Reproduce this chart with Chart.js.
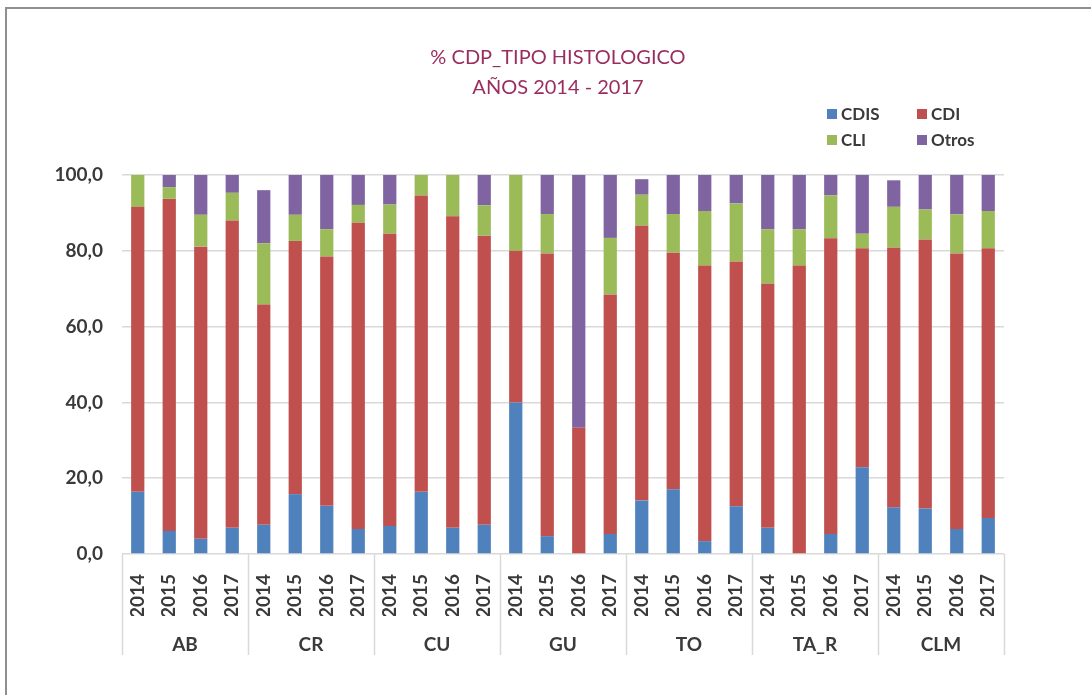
<!DOCTYPE html>
<html>
<head>
<meta charset="utf-8">
<script src="https://cdn.jsdelivr.net/npm/chart.js@4.4.1/dist/chart.umd.min.js"></script>
<style>
  html, body { margin: 0; padding: 0; background: #ffffff; }
  #wrap { position: relative; width: 1091px; height: 695px; overflow: hidden; }
</style>
</head>
<body>
<div id="wrap"><canvas id="c" width="1091" height="695"></canvas></div>
<script>
// ---- data ----
const groups = ['AB', 'CR', 'CU', 'GU', 'TO', 'TA_R', 'CLM'];
const years = ['2014', '2015', '2016', '2017'];
const seriesNames = ['CDIS', 'CDI', 'CLI', 'Otros'];
const cdis  = [16.4, 6.1, 4.0, 6.9,  7.7, 15.8, 12.7, 6.6,  7.4, 16.4, 6.9, 7.7,  40.0, 4.7, 0.0, 5.3,  14.1, 17.1, 3.4, 12.6,  6.9, 0.0, 5.3, 22.9,  12.3, 12.0, 6.6, 9.5];
const cdi   = [75.2, 87.6, 77.1, 81.1,  58.1, 66.8, 65.8, 80.8,  77.1, 78.2, 82.2, 76.3,  40.0, 74.6, 33.3, 63.2,  72.5, 62.4, 72.7, 64.6,  64.4, 76.1, 78.0, 57.8,  68.5, 71.0, 72.7, 71.2];
const cli   = [8.4, 3.1, 8.4, 7.3,  16.2, 6.9, 7.2, 4.7,  7.7, 5.4, 10.9, 8.0,  20.0, 10.4, 0.0, 14.9,  8.2, 10.2, 14.4, 15.3,  14.4, 9.6, 11.3, 3.8,  10.8, 7.9, 10.3, 9.8];
const otros = [0.0, 3.2, 10.5, 4.7,  14.0, 10.5, 14.3, 7.9,  7.8, 0.0, 0.0, 8.0,  0.0, 10.3, 66.7, 16.6,  4.1, 10.3, 9.5, 7.5,  14.3, 14.3, 5.4, 15.5,  7.0, 9.1, 10.4, 9.5];
const yTicks = [0, 20, 40, 60, 80, 100];
const titleLines = ['% CDP_TIPO HISTOLOGICO', 'AÑOS 2014 - 2017'];

// ---- styles ----
const colors = ['#4F81BD', '#C0504D', '#9BBB59', '#8064A2'];
const FONT = 'Lato';
const TEXT = '#3a3a3a';
const GRID = '#d9d9d9';

const xLabels = groups.flatMap(() => years);
const seriesValues = [cdis, cdi, cli, otros];

const frame = {
  id: 'frame',
  beforeDraw(chart) {
    const ctx = chart.ctx;
    ctx.save();
    ctx.strokeStyle = '#8f8f8f';
    ctx.lineWidth = 2;
    ctx.strokeRect(6, 8, 3000, 3000);
    ctx.restore();
  },
  afterDraw(chart) {
    const ctx = chart.ctx;
    const xs = chart.scales.x;
    const x2 = chart.scales.x2;
    const step = xs.getPixelForValue(1) - xs.getPixelForValue(0);
    ctx.save();
    // title
    ctx.fillStyle = '#9A2D5F';
    ctx.font = '20px ' + FONT;
    ctx.textAlign = 'center';
    ctx.textBaseline = 'middle';
    titleLines.forEach((t, i) => ctx.fillText(t, 558, 58 + i * 30));
    // group separators
    ctx.strokeStyle = GRID;
    ctx.lineWidth = 1.5;
    for (let i = 0; i <= groups.length; i++) {
      const px = Math.round(xs.getPixelForValue(i * years.length) - step / 2) + 0.5;
      ctx.beginPath();
      ctx.moveTo(px, chart.chartArea.bottom);
      ctx.lineTo(px, x2.top + 39);
      ctx.stroke();
    }
    // legend (2 x 2)
    const colX = [827, 917];
    const rowY = [114, 140];
    ctx.font = 'bold 17px ' + FONT;
    ctx.textBaseline = 'middle';
    ctx.textAlign = 'left';
    chart.data.datasets.forEach((ds, i) => {
      const cx = colX[i % 2];
      const cy = rowY[Math.floor(i / 2)];
      ctx.fillStyle = ds.backgroundColor;
      ctx.fillRect(cx, cy - 5, 10, 10);
      ctx.fillStyle = TEXT;
      ctx.fillText(ds.label, cx + 14, cy + 1);
    });
    ctx.restore();
  }
};

new Chart(document.getElementById('c'), {
  type: 'bar',
  data: {
    labels: xLabels,
    datasets: seriesNames.map((name, i) => ({
      label: name,
      data: seriesValues[i],
      backgroundColor: colors[i],
      borderWidth: 0,
      barPercentage: 0.42,
      categoryPercentage: 1.0
    }))
  },
  options: {
    responsive: false,
    animation: false,
    devicePixelRatio: 1,
    layout: { padding: { left: 40, right: 87, top: 175, bottom: 0 } },
    plugins: {
      legend: { display: false },
      tooltip: { enabled: false },
      title: { display: false }
    },
    scales: {
      x: {
        stacked: true,
        weight: 0,
        grid: { display: false },
        border: { display: false },
        ticks: {
          color: TEXT,
          font: { family: FONT, size: 19, weight: 'bold' },
          minRotation: 90,
          maxRotation: 90,
          autoSkip: false,
          padding: 12
        },
        afterFit(s) { s.height = 62; }
      },
      x2: {
        type: 'category',
        axis: 'x',
        position: 'bottom',
        weight: 1,
        labels: groups,
        offset: true,
        grid: { display: false },
        border: { display: false },
        ticks: {
          color: TEXT,
          font: { family: FONT, size: 19, weight: 'bold' },
          padding: 9,
          maxRotation: 0,
          autoSkip: false
        },
        afterFit(s) { s.height = 79; }
      },
      y: {
        stacked: true,
        min: 0,
        max: 100,
        afterBuildTicks(s) { s.ticks = yTicks.map(v => ({ value: v })); },
        grid: { color: GRID, lineWidth: 1.5, drawTicks: false },
        border: { display: false },
        ticks: {
          color: TEXT,
          font: { family: FONT, size: 19, weight: 'bold' },
          padding: 19,
          callback: v => Number(v).toFixed(1).replace('.', ',')
        },
        afterFit(s) { s.width = 82; }
      }
    }
  },
  plugins: [frame]
});
</script>
</body>
</html>
